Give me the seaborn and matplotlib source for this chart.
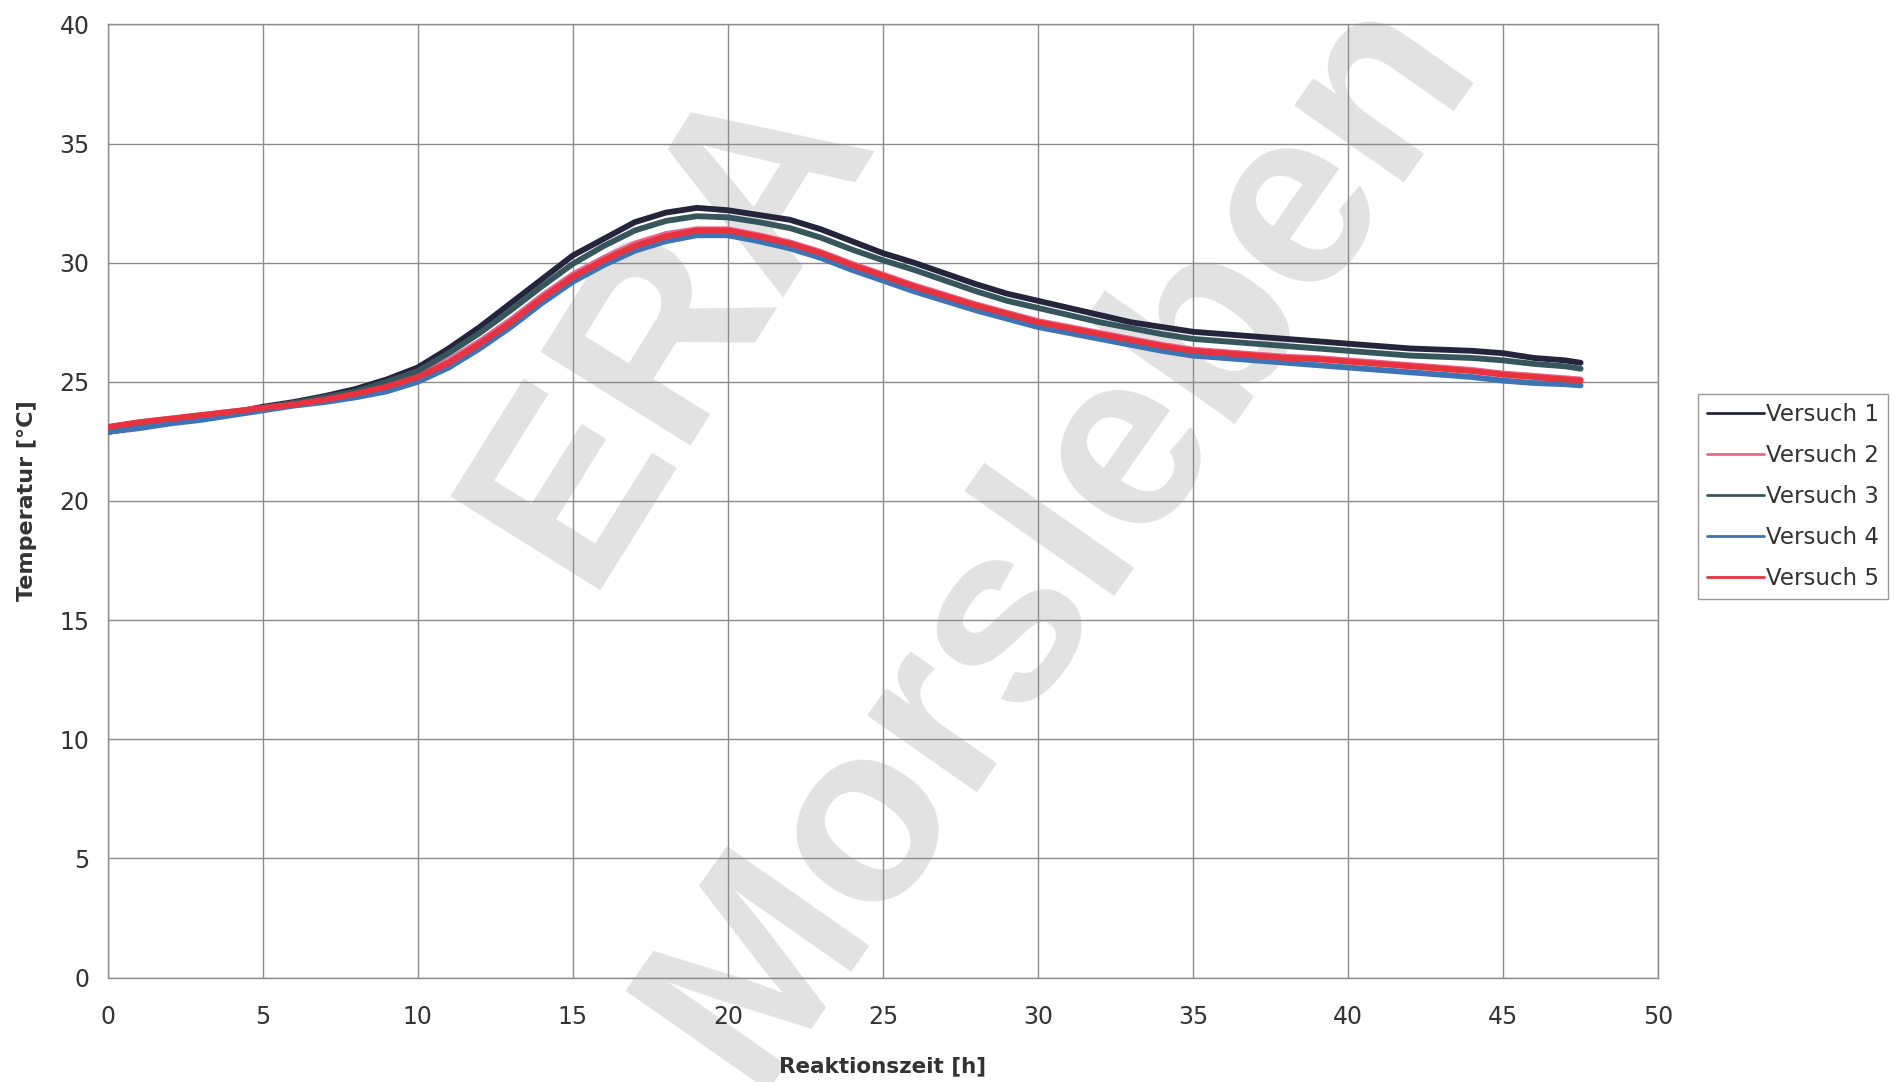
import numpy as np
import pandas as pd
import matplotlib
matplotlib.use("Agg")
import matplotlib.pyplot as plt
import seaborn as sns

# ---- data ----
zeit = [0, 1, 2, 3, 4, 5, 6, 7, 8, 9, 10, 11, 12, 13, 14, 15, 16, 17, 18, 19,
        20, 21, 22, 23, 24, 25, 26, 27, 28, 29, 30, 31, 32, 33, 34, 35, 36, 37,
        38, 39, 40, 41, 42, 43, 44, 45, 46, 47, 47.5]

versuch1 = [22.9, 23.1, 23.3, 23.5, 23.7, 23.95, 24.15, 24.4, 24.7, 25.1, 25.6,
            26.4, 27.3, 28.3, 29.3, 30.3, 31.0, 31.7, 32.1, 32.3, 32.2, 32.0,
            31.8, 31.4, 30.9, 30.4, 30.0, 29.55, 29.1, 28.7, 28.4, 28.1, 27.8,
            27.5, 27.3, 27.1, 27.0, 26.9, 26.8, 26.7, 26.6, 26.5, 26.4, 26.35,
            26.3, 26.2, 26.0, 25.9, 25.8]
versuch2 = [23.1, 23.3, 23.45, 23.6, 23.75, 23.9, 24.1, 24.3, 24.55, 24.85, 25.25,
            25.9, 26.7, 27.6, 28.6, 29.5, 30.2, 30.8, 31.2, 31.4, 31.4, 31.15,
            30.85, 30.45, 29.95, 29.5, 29.05, 28.65, 28.25, 27.9, 27.55, 27.3,
            27.05, 26.8, 26.55, 26.35, 26.25, 26.15, 26.05, 26.0, 25.9, 25.8,
            25.7, 25.6, 25.5, 25.35, 25.25, 25.15, 25.1]
versuch3 = [22.9, 23.1, 23.3, 23.45, 23.65, 23.9, 24.1, 24.35, 24.6, 25.0, 25.45,
            26.2, 27.05, 28.0, 29.0, 29.95, 30.7, 31.35, 31.75, 31.95, 31.9, 31.7,
            31.45, 31.05, 30.55, 30.1, 29.7, 29.25, 28.8, 28.4, 28.1, 27.8, 27.5,
            27.25, 27.0, 26.8, 26.7, 26.6, 26.5, 26.4, 26.3, 26.2, 26.1, 26.05,
            26.0, 25.9, 25.75, 25.65, 25.55]
versuch4 = [22.9, 23.05, 23.25, 23.4, 23.6, 23.8, 24.0, 24.15, 24.35, 24.6, 25.0,
            25.6, 26.4, 27.3, 28.3, 29.2, 29.9, 30.5, 30.9, 31.15, 31.15, 30.9,
            30.6, 30.2, 29.7, 29.25, 28.8, 28.4, 28.0, 27.65, 27.3, 27.05, 26.8,
            26.55, 26.3, 26.1, 26.0, 25.9, 25.8, 25.7, 25.6, 25.5, 25.4,
            25.3, 25.2, 25.05, 24.95, 24.9, 24.85]
versuch5 = [23.1, 23.3, 23.45, 23.6, 23.75, 23.9, 24.05, 24.25, 24.5, 24.8, 25.2,
            25.8, 26.6, 27.5, 28.5, 29.4, 30.1, 30.7, 31.1, 31.35, 31.35, 31.1,
            30.8, 30.4, 29.9, 29.45, 29.0, 28.6, 28.2, 27.85, 27.5, 27.25, 27.0,
            26.75, 26.5, 26.3, 26.2, 26.1, 26.0, 25.95, 25.85, 25.75, 25.65,
            25.55, 25.45, 25.3, 25.2, 25.1, 25.05]

series_names = ["Versuch 1", "Versuch 2", "Versuch 3", "Versuch 4", "Versuch 5"]
series_values = [versuch1, versuch2, versuch3, versuch4, versuch5]
colors = ["#24243c", "#e8648e", "#35565c", "#3f74b4", "#e8323e"]

x_ticks = [0, 5, 10, 15, 20, 25, 30, 35, 40, 45, 50]
y_ticks = [0, 5, 10, 15, 20, 25, 30, 35, 40]

df = pd.concat(
    [pd.DataFrame({"Zeit": zeit, "Temperatur": v, "Serie": n})
     for n, v in zip(series_names, series_values)],
    ignore_index=True,
)

# ---- figure ----
sns.set_theme(style="white")
plt.rcParams["font.family"] = ["DejaVu Sans"]

fig = plt.figure(figsize=(18.95, 10.82), dpi=100)
ax = fig.add_axes([0.0568, 0.0965, 0.8182, 0.8810])

# watermark
wm_kw = dict(transform=fig.transFigure, color="#e2e2e2", fontweight="bold",
             family=["Liberation Sans", "DejaVu Sans"],
             ha="center", va="center", zorder=0.1, clip_on=False)
ax.text(0.354, 0.70, "ERA", fontsize=185, rotation=58, **wm_kw)
ax.text(0.559, 0.505, "Morsleben", fontsize=182, rotation=55, **wm_kw)

sns.lineplot(data=df, x="Zeit", y="Temperatur", hue="Serie",
             palette=dict(zip(series_names, colors)), linewidth=4.2,
             sort=False, estimator=None, ax=ax, zorder=3)

ax.set_xlim(0, 50)
ax.set_ylim(0, 40)
ax.set_xticks(x_ticks)
ax.set_yticks(y_ticks)
ax.set_axisbelow(True)
ax.grid(True, color="#8c8c8c", linewidth=1.0, zorder=0.5)
ax.patch.set_alpha(0)
for s in ax.spines.values():
    s.set_color("#8c8c8c")
    s.set_linewidth(1.0)
ax.tick_params(axis="both", labelsize=17, colors="#333333", length=0)
ax.tick_params(axis="x", pad=20)
ax.tick_params(axis="y", pad=13)

ax.set_xlabel("Reaktionszeit [h]", fontsize=15.5, fontweight="bold",
              color="#333333")
ax.set_ylabel("Temperatur [°C]", fontsize=16, fontweight="bold",
              color="#333333")
ax.xaxis.set_label_coords(0.5, -0.0823)
ax.yaxis.set_label_coords(-0.0456, 0.5)

handles, labels = ax.get_legend_handles_labels()
ax.get_legend().remove()
leg = fig.legend(handles, labels, loc="center left",
                 bbox_to_anchor=(0.896, 0.541), fontsize=16.5,
                 frameon=True, fancybox=False, framealpha=1,
                 edgecolor="#9a9a9a", handlelength=2.5, handletextpad=0.05,
                 borderpad=0.4, labelspacing=0.78, borderaxespad=0)
for h in leg.get_lines():
    h.set_linewidth(2.0)
for t in leg.get_texts():
    t.set_color("#333333")

fig.savefig("out.png", dpi=100)
